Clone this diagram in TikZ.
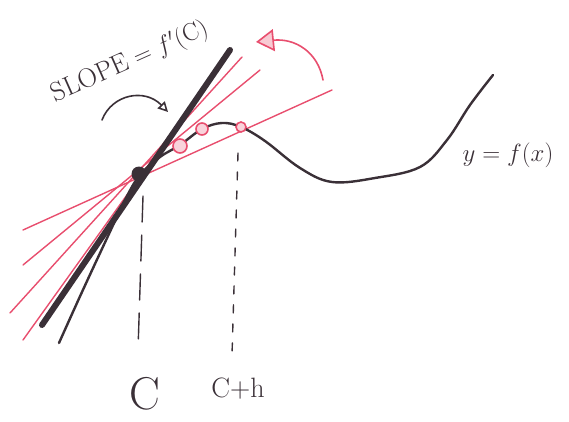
\documentclass[tikz,border=0pt]{standalone}
\usepackage{amsmath,amssymb}
\usepackage{tikz}
\usetikzlibrary{arrows.meta}
\definecolor{ink}{RGB}{58,48,55}
\definecolor{pen}{RGB}{232,78,110}

\begin{document}
\begin{tikzpicture}[x=1pt,y=-1pt,line cap=round,
    inkline/.style={ink,line width=2.4pt},
    secline/.style={pen,line width=1.4pt},
    ptmark/.style={pen,line width=1.6pt,fill=pen!25},
    dropline/.style={ink,line width=1.4pt}]
  \useasboundingbox (0,0) rectangle (569,422);
  % secant lines through C
  \foreach \n/\xa/\ya/\xb/\yb in {1/23/230/332/90, 2/23/265/260/70, 3/10/313/242/57, 4/23/340/200/93}
  {
    \coordinate (s\n a) at (\xa,\ya);
    \coordinate (s\n b) at (\xb,\yb);
    \draw[secline] (s\n a) -- (s\n b);
  }
  % the curve
  \draw[inkline] plot[smooth,tension=.6] coordinates {(59,343) (82,292) (108,236) (126,198) (140,175)
    (160,157) (180,145) (202,129) (222,123) (241,127) (265,141) (300,168) (332,182)
    (375,178) (420,167) (447,140) (470,105) (493,75)};
  % points on the curve
  \draw[ptmark] (180,146) circle (7);
  \draw[ptmark] (202,129) circle (6);
  \draw[ptmark] (241,127) circle (5);
  % tangent line
  \coordinate (ta) at (42,325);
  \coordinate (tb) at (230,50);
  \draw[ink,line width=6pt] (ta) -- (tb);
  \coordinate (C) at (139,174);
  \fill[ink] (C) circle (7.5);
  % dashed drops
  \coordinate (dca) at (143,196);
  \coordinate (dcb) at (138,350);
  \draw[dropline,dash pattern=on 26pt off 13pt] (dca) -- (dcb);
  \coordinate (dha) at (238,153);
  \coordinate (dhb) at (232,355);
  \draw[dropline,dash pattern=on 8pt off 11pt] (dha) -- (dhb);
  % labels
  \node[ink,font=\fontsize{46}{52}\selectfont] (lc) at (145,394) {C};
  \node[ink,font=\fontsize{28}{32}\selectfont] (lch) at (238,389) {C+h};
  \node[ink,font=\fontsize{30}{36}\selectfont] (lf) at (508,155) {$y=f(x)$};
  \node[ink,rotate=24,font=\fontsize{27}{32}\selectfont] (ls) at (130,62) {SLOPE${}=f'(\mathrm{C})$};
  % arrow to tangent
  \coordinate (aa) at (102,120);
  \coordinate (ab) at (168,112);
  \draw[ink,line width=1.6pt,-{Triangle[open,length=10pt,width=10pt]}] (aa) .. controls (112,94) and (145,88) .. (ab);
  % turning arrow
  \coordinate (ra) at (323,80);
  \coordinate (rb) at (256,42);
  \draw[pen,line width=1.6pt,-{Triangle[length=18pt,width=22pt,fill=pen!30]}] (ra) .. controls (318,52) and (295,38) .. (rb);
\end{tikzpicture}
\end{document}
